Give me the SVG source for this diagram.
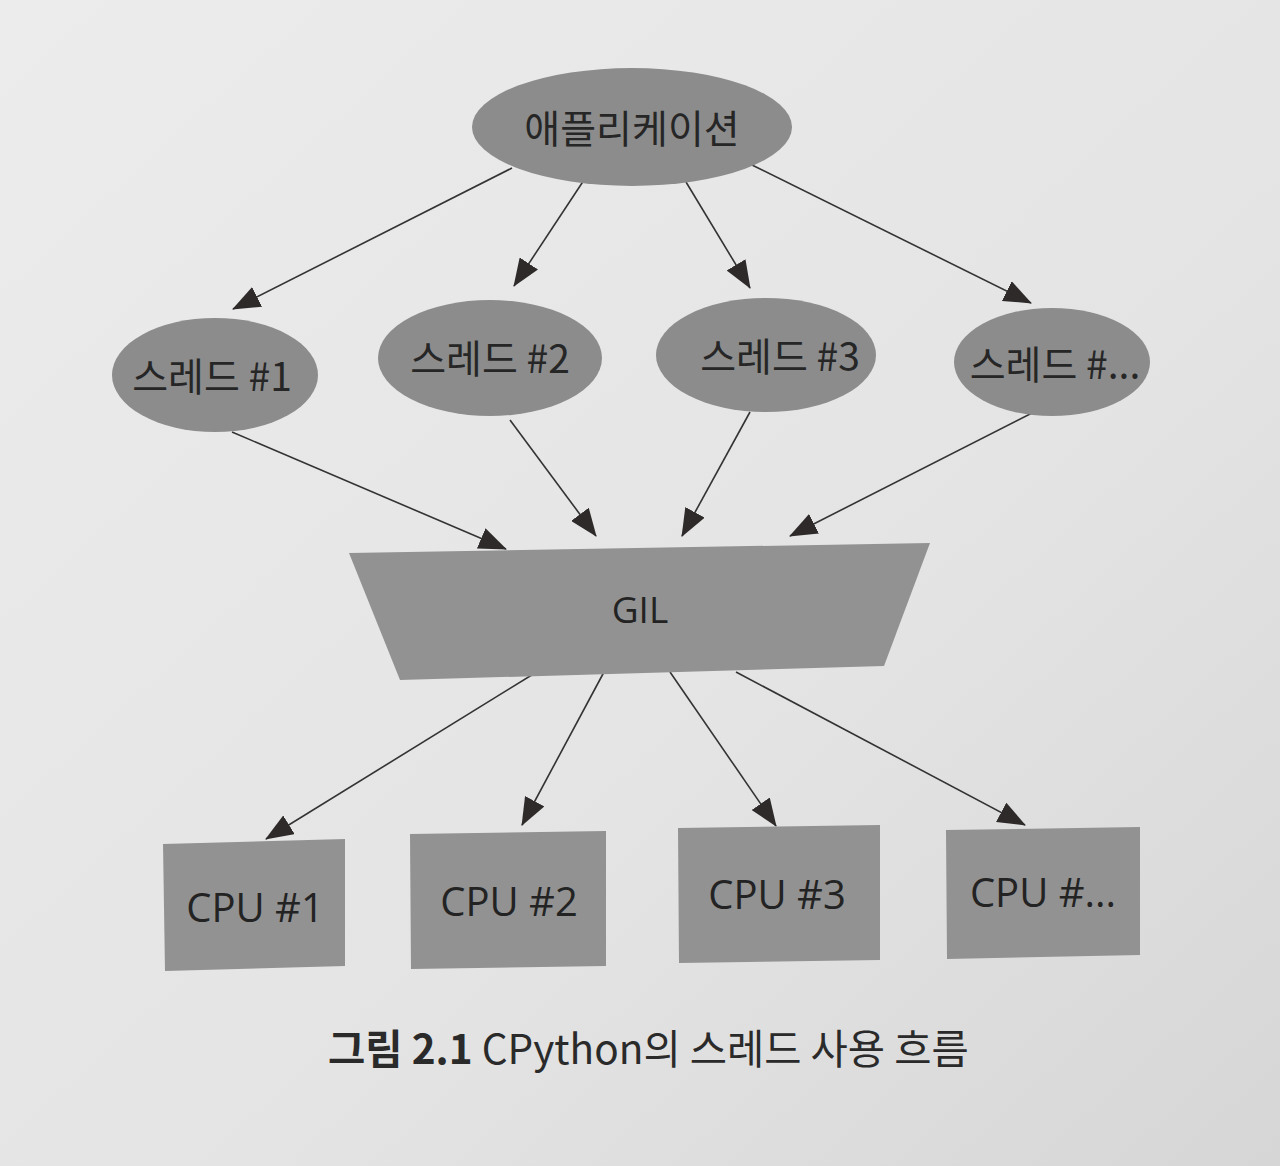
<svg xmlns="http://www.w3.org/2000/svg" width="1280" height="1166" viewBox="0 0 1280 1166">
  <defs>
    <linearGradient id="page" x1="0" y1="0" x2="1" y2="1">
      <stop offset="0" stop-color="#ececec"/>
      <stop offset="0.6" stop-color="#e4e4e4"/>
      <stop offset="1" stop-color="#d6d6d6"/>
    </linearGradient>
    <marker id="arr" viewBox="0 0 28 22" refX="27" refY="11" markerWidth="28" markerHeight="22" orient="auto" markerUnits="userSpaceOnUse">
      <path d="M0,0 L28,11 L0,22 z" fill="#2e2a2a"/>
    </marker>
    <style>
      .ell { fill: #8c8c8c; }
      .box { fill: #929292; }
      .lbl { font-family: "Noto Sans CJK KR", "Noto Sans", sans-serif; font-size: 39px; fill: #262626; text-anchor: middle; dominant-baseline: central; }
      .cpu { font-family: "Open Sans", "Noto Sans", sans-serif; font-size: 40px; fill: #232323; text-anchor: middle; dominant-baseline: central; }
      .gil { font-family: "Open Sans", "Noto Sans", sans-serif; font-size: 37px; fill: #232323; text-anchor: middle; dominant-baseline: central; }
      .edge { stroke: #333; stroke-width: 1.6; fill: none; marker-end: url(#arr); }
      .cap { font-family: "Noto Sans CJK KR", "Noto Sans", sans-serif; font-size: 40.5px; fill: #2a2a2a; }
    </style>
  </defs>
  <rect x="0" y="0" width="1280" height="1166" fill="url(#page)"/>

  <g id="connectors">
    <line class="edge" x1="512" y1="168" x2="233" y2="309"/>
    <line class="edge" x1="584" y1="180" x2="514" y2="286"/>
    <line class="edge" x1="686" y1="182" x2="750" y2="288"/>
    <line class="edge" x1="752" y1="165" x2="1031" y2="303"/>
    <line class="edge" x1="232" y1="432" x2="506" y2="549"/>
    <line class="edge" x1="510" y1="420" x2="596" y2="536"/>
    <line class="edge" x1="750" y1="412" x2="682" y2="536"/>
    <line class="edge" x1="1038" y1="410" x2="790" y2="536"/>
    <line class="edge" x1="535" y1="673" x2="266" y2="839"/>
    <line class="edge" x1="604" y1="672" x2="522" y2="825"/>
    <line class="edge" x1="670" y1="672" x2="776" y2="826"/>
    <line class="edge" x1="736" y1="672" x2="1025" y2="825"/>
  </g>

  <g id="app">
    <ellipse class="ell" cx="632" cy="127" rx="160" ry="59"/>
    <text class="lbl" x="632" y="126">애플리케이션</text>
  </g>
  <g id="thread1">
    <ellipse class="ell" cx="215" cy="375" rx="103" ry="57"/>
    <text class="lbl" x="212" y="374">스레드 #1</text>
  </g>
  <g id="thread2">
    <ellipse class="ell" cx="490" cy="358" rx="112" ry="58"/>
    <text class="lbl" x="490" y="356">스레드 #2</text>
  </g>
  <g id="thread3">
    <ellipse class="ell" cx="766" cy="355" rx="110" ry="57"/>
    <text class="lbl" x="780" y="354">스레드 #3</text>
  </g>
  <g id="threadN">
    <ellipse class="ell" cx="1052" cy="362" rx="98" ry="54"/>
    <text class="lbl" x="1055" y="362">스레드 #...</text>
  </g>

  <g id="gil">
    <polygon class="box" points="349,553 930,543 884,666 400,680"/>
    <text class="gil" x="640" y="608">GIL</text>
  </g>

  <g id="cpu1">
    <polygon class="box" points="163,844 345,839 345,966 165,971"/>
    <text class="cpu" x="255" y="906">CPU #1</text>
  </g>
  <g id="cpu2">
    <polygon class="box" points="410,834 606,831 606,966 411,969"/>
    <text class="cpu" x="509" y="900">CPU #2</text>
  </g>
  <g id="cpu3">
    <polygon class="box" points="678,828 880,825 880,960 679,963"/>
    <text class="cpu" x="777" y="893">CPU #3</text>
  </g>
  <g id="cpuN">
    <polygon class="box" points="946,830 1140,827 1140,955 947,959"/>
    <text class="cpu" x="1043" y="891">CPU #...</text>
  </g>

  <text class="cap" x="328" y="1064"><tspan font-weight="bold">그림 2.1</tspan> CPython의 스레드 사용 흐름</text>
</svg>
